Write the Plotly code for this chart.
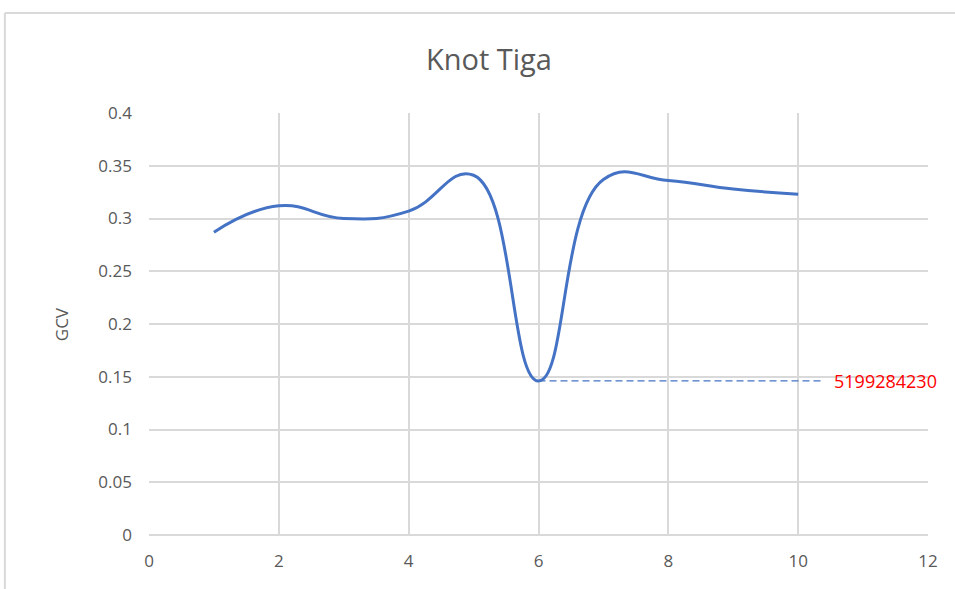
import plotly.graph_objects as go

# Data
knots = [1, 2, 3, 4, 5, 6, 7, 8, 9, 10]
gcv = [0.287, 0.312, 0.300, 0.307, 0.341, 0.146, 0.337, 0.336, 0.328, 0.323]
min_label = "5199284230"
ref_line_end_x = 10.37
x_ticks = [0, 2, 4, 6, 8, 10, 12]
y_ticks = [0, 0.05, 0.1, 0.15, 0.2, 0.25, 0.3, 0.35, 0.4]
y_tick_text = ["0", "0.05", "0.1", "0.15", "0.2", "0.25", "0.3", "0.35", "0.4"]

min_val = min(gcv)
min_x = knots[gcv.index(min_val)]

FONT = "Open Sans, Liberation Sans, sans-serif"
GRAY = "#595959"
GRID = "#d9d9d9"
BLUE = "#4472C4"

fig = go.Figure()
fig.add_trace(go.Scatter(
    x=knots, y=gcv, mode="lines",
    line=dict(color=BLUE, width=3, shape="spline", smoothing=1.3),
    showlegend=False, hoverinfo="x+y",
))
fig.add_trace(go.Scatter(
    x=[min_x, ref_line_end_x], y=[min_val, min_val], mode="lines",
    line=dict(color=BLUE, width=1.3, dash="7px,4px"),
    showlegend=False, hoverinfo="skip",
))

fig.add_annotation(
    x=ref_line_end_x, y=min_val, xref="x", yref="y",
    text=min_label, showarrow=False, xanchor="left", xshift=10,
    font=dict(family=FONT, size=18, color="#ff0000"),
)
fig.add_annotation(
    x=-0.13, y=0.5, xref="paper", yref="paper",
    text="GCV", showarrow=False, textangle=-90,
    font=dict(family=FONT, size=17, color=GRAY),
)

# chart-area border (top and left)
fig.add_shape(type="line", xref="paper", yref="paper",
              x0=-0.185, x1=1.1, y0=1.237, y1=1.237,
              line=dict(color=GRID, width=2))
fig.add_shape(type="line", xref="paper", yref="paper",
              x0=-0.185, x1=-0.185, y0=1.237, y1=-0.2,
              line=dict(color=GRID, width=2))

fig.update_layout(
    width=955, height=589,
    margin=dict(l=149, r=27, t=113, b=54),
    paper_bgcolor="white", plot_bgcolor="white",
    title=dict(text="Knot Tiga", x=0.512, xref="container", xanchor="center",
               y=0.898, yref="container", yanchor="middle",
               font=dict(family=FONT, size=29, color=GRAY)),
    font=dict(family=FONT, color=GRAY),
)
fig.update_xaxes(
    range=[0, 12], tickvals=x_ticks, ticktext=[str(t) for t in x_ticks],
    showgrid=True, gridcolor=GRID, gridwidth=1.5,
    zeroline=False, showline=False,
    tickfont=dict(family=FONT, size=17, color=GRAY),
    ticklabelstandoff=14,
)
fig.update_yaxes(
    range=[0, 0.4], tickvals=y_ticks, ticktext=y_tick_text,
    showgrid=True, gridcolor=GRID, gridwidth=1.5,
    zeroline=True, zerolinecolor=GRID, zerolinewidth=2, showline=False,
    tickfont=dict(family=FONT, size=17, color=GRAY),
    ticklabelstandoff=16,
)

fig.write_html(
    "out.html",
    config={"displayModeBar": False},
    post_script="document.body.style.margin='0';document.body.style.overflow='hidden';",
)
